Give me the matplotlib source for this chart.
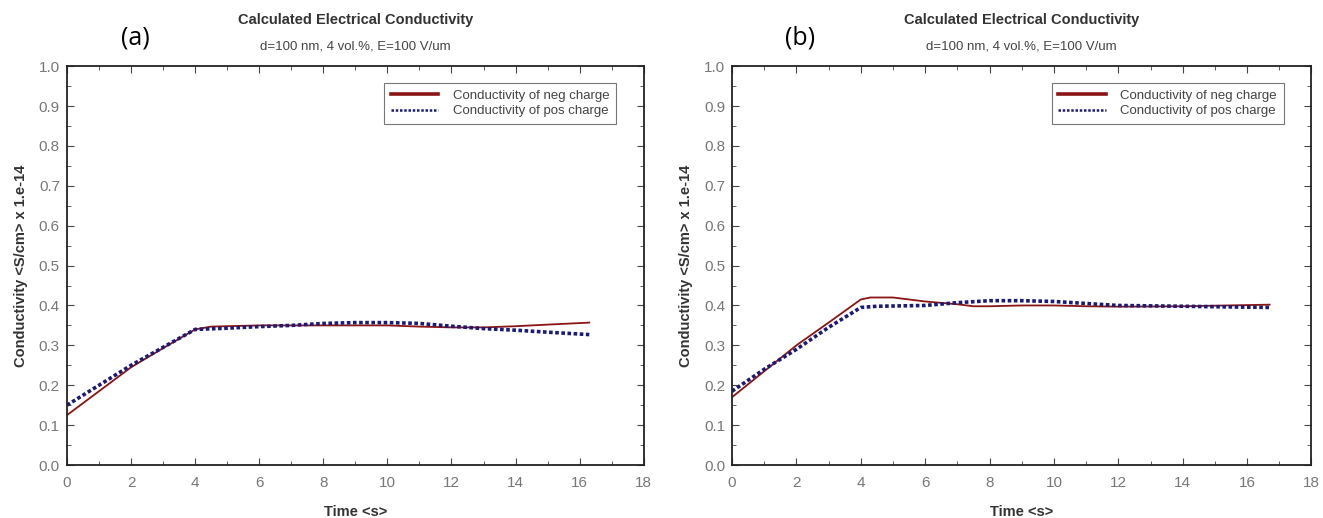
import matplotlib
matplotlib.use("Agg")
import matplotlib.pyplot as plt
from matplotlib.ticker import MultipleLocator, FormatStrFormatter

plt.rcParams['font.family'] = ['Liberation Sans', 'DejaVu Sans']

# Panel (a)
a_neg_t = [0, 1, 2, 3, 4, 4.5, 6, 8, 10, 11, 12, 13, 14, 15, 16.3]
a_neg_v = [0.125, 0.185, 0.245, 0.293, 0.34, 0.347, 0.35, 0.35, 0.35, 0.347, 0.345, 0.345, 0.348, 0.352, 0.357]
a_pos_t = [0, 1, 2, 3, 4, 5, 6, 7, 8, 9, 10, 11, 12, 13, 14, 15, 16.3]
a_pos_v = [0.15, 0.2, 0.25, 0.295, 0.34, 0.343, 0.347, 0.35, 0.355, 0.357, 0.357, 0.355, 0.348, 0.342, 0.338, 0.333, 0.327]

# Panel (b)
b_neg_t = [0, 1, 2, 3, 4, 4.3, 5, 6, 7, 7.5, 8, 9, 10, 11, 12, 14, 16.7]
b_neg_v = [0.17, 0.235, 0.3, 0.357, 0.415, 0.42, 0.42, 0.41, 0.403, 0.398, 0.398, 0.4, 0.4, 0.398, 0.397, 0.398, 0.402]
b_pos_t = [0, 1, 2, 3, 4, 4.5, 6, 7, 8, 9, 10, 11, 12, 14, 16.7]
b_pos_v = [0.185, 0.24, 0.29, 0.345, 0.395, 0.398, 0.4, 0.407, 0.412, 0.412, 0.41, 0.405, 0.4, 0.398, 0.395]

panels = [
    ("(a)", a_neg_t, a_neg_v, a_pos_t, a_pos_v),
    ("(b)", b_neg_t, b_neg_v, b_pos_t, b_pos_v),
]

title = "Calculated Electrical Conductivity"
subtitle = "d=100 nm, 4 vol.%, E=100 V/um"
xlabel = "Time <s>"
ylabel = "Conductivity <S/cm> x 1.e-14"
neg_label = "Conductivity of neg charge"
pos_label = "Conductivity of pos charge"

neg_color = "#8b1414"
pos_color = "#1a1a7a"

fig = plt.figure(figsize=(13.23, 5.18), dpi=100)
rects = [[0.0506, 0.1023, 0.436, 0.770], [0.5533, 0.1023, 0.438, 0.770]]

for rect, (lab, nt, nv, pt, pv) in zip(rects, panels):
    ax = fig.add_axes(rect)
    ax.plot(nt, nv, color=neg_color, lw=1.3, label=neg_label)
    ax.plot(pt, pv, color=pos_color, lw=2.6, ls=(0, (1, 0.7)), label=pos_label)
    ax.set_xlim(0, 18)
    ax.set_ylim(0, 1.0)
    ax.xaxis.set_major_locator(MultipleLocator(2))
    ax.xaxis.set_minor_locator(MultipleLocator(1))
    ax.yaxis.set_major_locator(MultipleLocator(0.1))
    ax.yaxis.set_minor_locator(MultipleLocator(0.05))
    ax.yaxis.set_major_formatter(FormatStrFormatter('%.1f'))
    ax.tick_params(which='both', direction='in', top=True, right=True, colors='#444444', labelsize=11)
    ax.tick_params(which='major', length=5)
    ax.tick_params(which='minor', length=3)
    ax.tick_params(axis='x', pad=8)
    ax.tick_params(axis='y', pad=5)
    for lbl in ax.get_xticklabels() + ax.get_yticklabels():
        lbl.set_color('#777777')
    for s in ax.spines.values():
        s.set_linewidth(1.3)
        s.set_color('#222222')
    ax.set_xlabel(xlabel, fontweight='bold', fontsize=10.5, color='#333333', labelpad=11)
    ax.set_ylabel(ylabel, fontweight='bold', fontsize=10.5, color='#333333', labelpad=8)
    ax.text(0.5, 1.115, title, transform=ax.transAxes, ha='center', va='center',
            fontweight='bold', fontsize=10.5, color='#333333')
    ax.text(0.5, 1.05, subtitle, transform=ax.transAxes, ha='center', va='center',
            fontsize=9.5, color='#444444')
    ax.text(0.118, 1.07, lab, transform=ax.transAxes, ha='center', va='center',
            fontsize=18, color='black', family=['Open Sans', 'DejaVu Sans'])
    leg = ax.legend(loc='upper right', bbox_to_anchor=(0.952, 0.958), fontsize=9.5,
                    frameon=True, fancybox=False, edgecolor='#555555',
                    handlelength=3.6, borderpad=0.5, labelspacing=0.25, handletextpad=1.1,
                    borderaxespad=0)
    leg.get_frame().set_linewidth(0.8)
    leg.legend_handles[0].set_linewidth(2.6)
    leg.legend_handles[1].set_linewidth(1.8)
    for t in leg.get_texts():
        t.set_color('#444444')

fig.savefig("out.png", dpi=100)
